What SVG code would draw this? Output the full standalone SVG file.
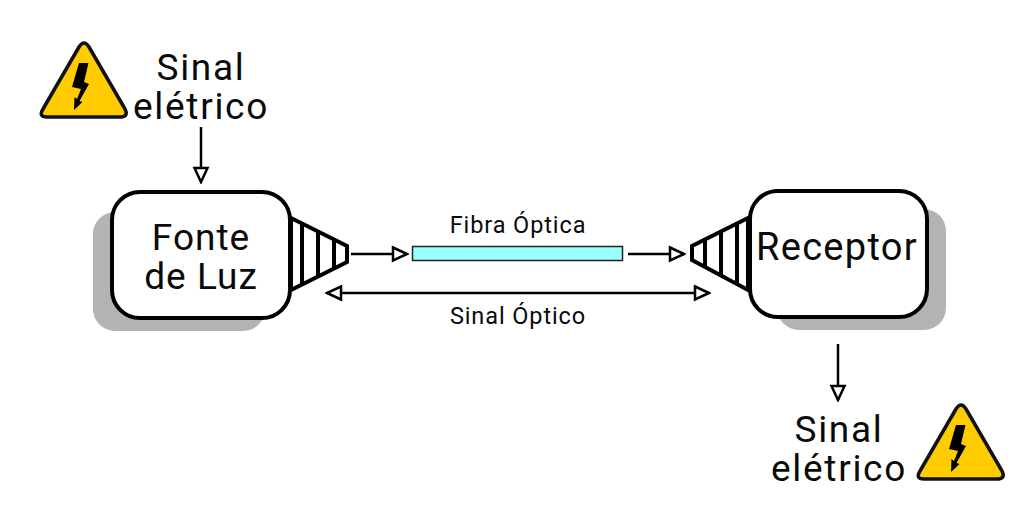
<svg xmlns="http://www.w3.org/2000/svg" width="1015" height="506" viewBox="0 0 1015 506">
<style>
text{font-family:"Roboto","Liberation Sans",sans-serif;fill:#0a0a0a;text-anchor:middle}
.big{font-size:37px;letter-spacing:1.700px}
.node{font-size:37px;letter-spacing:1px}
.rec{font-size:38px;letter-spacing:1.300px}
.small{font-size:23.500px;letter-spacing:.9px}
.box{fill:#fff;stroke:#000;stroke-width:4}
.shadow{fill:#b3b3b3}
.funnel{fill:#fff;stroke:#000;stroke-width:4;stroke-linejoin:miter}
.bars{stroke:#000;stroke-width:4;fill:none}
.line{stroke:#000;stroke-width:2.500;fill:none}
.tri{fill:#fc0;stroke:#111;stroke-width:3.500;stroke-linejoin:round}
.bolt{fill:#000}
</style>
<defs>
<marker id="arr" markerUnits="userSpaceOnUse" markerWidth="18" markerHeight="18" refX="16" refY="8" orient="auto-start-reverse" viewBox="0 0 18 16">
<path d="M2 1.500L16 8L2 14.500Z" fill="#fff" stroke="#000" stroke-width="2.500"/>
</marker>
<g id="warn">
<path class="tri" d="M79 47Q84 39 89 47L125 109Q129 117 120 117L47 117Q38 117 43 109Z"/>
<path class="bolt" d="M79 63L88.500 63L84 82L89 84L79.500 101L82.500 102L74 110L74.500 97L77 99L81 89L72 87Z"/>
</g>
</defs>
<rect width="1015" height="506" fill="#fff"/>
<g id="connectors">
<line class="line" x1="201" y1="127" x2="201" y2="182" marker-end="url(#arr)"/>
<line class="line" x1="351" y1="254" x2="407" y2="254" marker-end="url(#arr)"/>
<line class="line" x1="628" y1="254" x2="684" y2="254" marker-end="url(#arr)"/>
<line class="line" x1="327" y1="293" x2="709" y2="293" marker-start="url(#arr)" marker-end="url(#arr)"/>
<line class="line" x1="838" y1="344" x2="838" y2="400" marker-end="url(#arr)"/>
</g>
<g id="fonte-de-luz">
<rect class="shadow" x="93" y="212" width="172" height="119" rx="22"/>
<path class="funnel" d="M291 218L347 246V262L291 290Z"/>
<path class="bars" d="M302 222V285M318 230V277M334 238V269"/>
<rect class="box" x="112" y="192" width="178" height="126" rx="28"/>
<text class="node" x="201" y="250">Fonte</text>
<text class="node" x="201" y="289">de Luz</text>
</g>
<g id="receptor">
<rect class="shadow" x="777" y="209" width="169" height="121" rx="22"/>
<path class="funnel" d="M748 218L692 246V260L748 290Z"/>
<path class="bars" d="M705 238V268M721 230V277M737 222V285"/>
<rect class="box" x="750" y="191" width="177" height="126" rx="28"/>
<text class="rec" x="837" y="260">Receptor</text>
</g>
<g id="fibra-optica">
<rect x="412.500" y="246.500" width="210" height="14" fill="#99ffff" stroke="#222" stroke-width="1.500"/>
<text class="small" x="518" y="233">Fibra Óptica</text>
</g>
<g id="sinal-optico"><text class="small" x="518" y="324">Sinal Óptico</text></g>
<g id="sinal-eletrico-entrada">
<use href="#warn"/>
<text class="big" x="201" y="80">Sinal</text>
<text class="big" x="201" y="119">elétrico</text>
</g>
<g id="sinal-eletrico-saida">
<use href="#warn" x="877" y="362"/>
<text class="big" x="839" y="442">Sinal</text>
<text class="big" x="839" y="481">elétrico</text>
</g>
</svg>
